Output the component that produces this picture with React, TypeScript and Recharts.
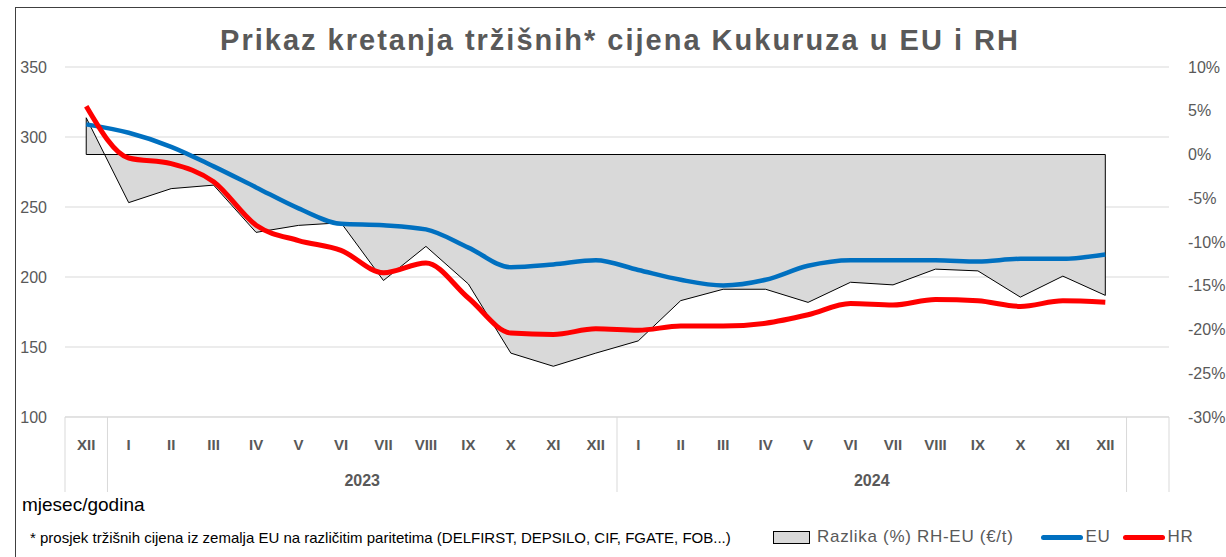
import React from "react";
import {
    ComposedChart,
    Area,
    Line,
    XAxis,
    YAxis,
    CartesianGrid,
    ReferenceLine,
} from "recharts";

// mjeseci (zadnji stupac je prazan, kao u Excelu)
const MONTHS = [
    "XII",
    "I", "II", "III", "IV", "V", "VI", "VII", "VIII", "IX", "X", "XI", "XII",
    "I", "II", "III", "IV", "V", "VI", "VII", "VIII", "IX", "X", "XI", "XII",
    "",
];
const YEARS = [
    "",
    "2023", "2023", "2023", "2023", "2023", "2023", "2023", "2023", "2023", "2023", "2023", "2023",
    "2024", "2024", "2024", "2024", "2024", "2024", "2024", "2024", "2024", "2024", "2024", "2024",
    "",
];

// €/t
const EU = [
    309, 303, 293, 279, 264, 249, 238, 237, 234, 221, 207, 209, 212,
    205, 198, 194, 198, 208, 212, 212, 212, 211, 213, 213, 216,
];
const HR = [
    322, 285, 281, 268, 237, 226, 219, 203, 210, 185, 160, 159, 163,
    162, 165, 165, 167, 173, 181, 180, 184, 183, 179, 183, 182,
];
// razlika u % (RH-EU)
const DIFF = [
    4.2, -5.5, -3.9, -3.5, -8.9, -8.1, -7.8, -14.4, -10.5, -14.8, -22.7, -24.2, -22.7,
    -21.3, -16.7, -15.4, -15.4, -16.9, -14.6, -14.9, -13.1, -13.3, -16.3, -13.9, -16.1,
];

const LEFT_TICKS = [100, 150, 200, 250, 300, 350];
const RIGHT_TICKS = [-30, -25, -20, -15, -10, -5, 0, 5, 10];

const data = MONTHS.map((m, i) => ({
    key: `${m}-${i}`,
    month: m,
    year: YEARS[i],
    eu: EU[i],
    hr: HR[i],
    diff: DIFF[i],
}));

const W = 1226;
const H = 557;
const PLOT_LEFT = 65;
const PLOT_RIGHT = 1169;
const PLOT_TOP = 67;
const PLOT_BOTTOM = 417;
const BAND = (PLOT_RIGHT - PLOT_LEFT) / MONTHS.length;
const GRAY = "#595959";
const FONT = "'Liberation Sans', Arial, sans-serif";

const MonthTick = (props: any) => {
    const { x, payload } = props;
    const i = payload.index;
    const y0 = PLOT_BOTTOM;
    const parts: React.ReactNode[] = [];
    // separator lijevo od grupe
    if (i === 0 || YEARS[i] !== YEARS[i - 1]) {
        parts.push(
            <line key="l" x1={x - BAND / 2} x2={x - BAND / 2} y1={y0} y2={y0 + 75} stroke="#d9d9d9" />
        );
        if (YEARS[i]) {
            let n = 0;
            while (YEARS[i + n] === YEARS[i]) n++;
            parts.push(
                <text
                    key="y"
                    x={x - BAND / 2 + (n * BAND) / 2}
                    y={y0 + 69}
                    textAnchor="middle"
                    fontSize={16}
                    fontWeight="bold"
                    fill={GRAY}
                    fontFamily={FONT}
                >
                    {YEARS[i]}
                </text>
            );
        }
    }
    if (i === MONTHS.length - 1) {
        parts.push(
            <line key="r" x1={x + BAND / 2} x2={x + BAND / 2} y1={y0} y2={y0 + 75} stroke="#d9d9d9" />
        );
    }
    return (
        <g>
            {parts}
            <text
                x={x}
                y={y0 + 33}
                textAnchor="middle"
                fontSize={15}
                fontWeight="bold"
                fill={GRAY}
                fontFamily={FONT}
            >
                {MONTHS[i]}
            </text>
        </g>
    );
};

const LegendItem = ({ kind, color, label, gap }: { kind: string; color: string; label: string; gap: number }) => (
    <span style={{ display: "inline-flex", alignItems: "center", marginRight: gap }}>
        {kind === "box" ? (
            <span
                style={{
                    display: "inline-block",
                    width: 35,
                    height: 11,
                    background: "#d9d9d9",
                    border: "1.5px solid #000",
                    marginRight: 7,
                }}
            />
        ) : (
            <span
                style={{
                    display: "inline-block",
                    width: 42,
                    height: 5,
                    borderRadius: 3,
                    background: color,
                    marginRight: 3,
                }}
            />
        )}
        <span>{label}</span>
    </span>
);

export default function App() {
    return (
        <div
            style={{
                position: "absolute",
                left: 0,
                top: 0,
                width: W,
                height: H,
                background: "#fff",
                fontFamily: FONT,
                overflow: "hidden",
            }}
        >
            <div
                style={{
                    position: "absolute",
                    left: 15,
                    top: 7,
                    width: W,
                    height: H,
                    borderLeft: "1.5px solid #404040",
                    borderTop: "1.5px solid #404040",
                }}
            />
            <div
                style={{
                    position: "absolute",
                    left: 0,
                    width: W,
                    top: 24,
                    textAlign: "center",
                    paddingLeft: 14,
                    boxSizing: "border-box",
                    fontSize: 29,
                    letterSpacing: 2,
                    fontWeight: "bold",
                    color: GRAY,
                }}
            >
                Prikaz kretanja tržišnih* cijena Kukuruza u EU i RH
            </div>

            <ComposedChart
                width={W}
                height={H}
                data={data}
                margin={{ top: PLOT_TOP, right: 0, bottom: H - PLOT_BOTTOM - 75, left: 0 }}
                style={{ position: "absolute", left: 0, top: 0 }}
            >
                <CartesianGrid yAxisId="left" vertical={false} stroke="#d9d9d9" />
                <XAxis
                    dataKey="key"
                    scale="band"
                    height={75}
                    interval={0}
                    tickLine={false}
                    axisLine={{ stroke: "#d9d9d9" }}
                    tick={<MonthTick />}
                />
                <YAxis
                    yAxisId="left"
                    orientation="left"
                    width={PLOT_LEFT}
                    domain={[100, 350]}
                    ticks={LEFT_TICKS}
                    tickLine={false}
                    axisLine={false}
                    tickMargin={12}
                    tick={{ fill: GRAY, fontSize: 16, fontFamily: FONT }}
                />
                <YAxis
                    yAxisId="right"
                    orientation="right"
                    width={W - PLOT_RIGHT}
                    domain={[-30, 10]}
                    ticks={RIGHT_TICKS}
                    tickLine={false}
                    axisLine={false}
                    tickMargin={13}
                    tickFormatter={(v: number) => `${v}%`}
                    tick={{ fill: GRAY, fontSize: 16, fontFamily: FONT, textAnchor: "start" }}
                />
                <Area
                    yAxisId="right"
                    dataKey="diff"
                    type="linear"
                    baseValue={0}
                    fill="#d9d9d9"
                    fillOpacity={1}
                    stroke="#000"
                    strokeWidth={1}
                    isAnimationActive={false}
                />
                <ReferenceLine
                    yAxisId="right"
                    segment={[
                        { x: data[0].key, y: 0 },
                        { x: data[DIFF.length - 1].key, y: 0 },
                    ]}
                    stroke="#000"
                    strokeWidth={1}
                />
                <ReferenceLine
                    yAxisId="right"
                    segment={[
                        { x: data[0].key, y: 0 },
                        { x: data[0].key, y: DIFF[0] },
                    ]}
                    stroke="#000"
                    strokeWidth={1}
                />
                <ReferenceLine
                    yAxisId="right"
                    segment={[
                        { x: data[DIFF.length - 1].key, y: 0 },
                        { x: data[DIFF.length - 1].key, y: DIFF[DIFF.length - 1] },
                    ]}
                    stroke="#000"
                    strokeWidth={1}
                />
                <Line
                    yAxisId="left"
                    dataKey="eu"
                    type="monotone"
                    stroke="#0070C0"
                    strokeWidth={4.5}
                    dot={false}
                    isAnimationActive={false}
                />
                <Line
                    yAxisId="left"
                    dataKey="hr"
                    type="monotone"
                    stroke="#FF0000"
                    strokeWidth={5}
                    dot={false}
                    isAnimationActive={false}
                />
            </ComposedChart>

            <div style={{ position: "absolute", left: 22, top: 494, fontSize: 19, color: "#000" }}>
                mjesec/godina
            </div>
            <div style={{ position: "absolute", left: 30, top: 529, fontSize: 15, color: "#000" }}>
                * prosjek tržišnih cijena iz zemalja EU na različitim paritetima (DELFIRST, DEPSILO, CIF, FGATE, FOB...)
            </div>
            <div
                style={{
                    position: "absolute",
                    left: 773,
                    top: 527,
                    fontSize: 17,
                    letterSpacing: 0.7,
                    color: GRAY,
                    display: "flex",
                    alignItems: "center",
                    whiteSpace: "nowrap",
                }}
            >
                <LegendItem kind="box" color="#d9d9d9" label="Razlika (%) RH-EU  (€/t)" gap={27} />
                <LegendItem kind="line" color="#0070C0" label="EU" gap={12} />
                <LegendItem kind="line" color="#FF0000" label="HR" gap={0} />
            </div>
        </div>
    );
}
